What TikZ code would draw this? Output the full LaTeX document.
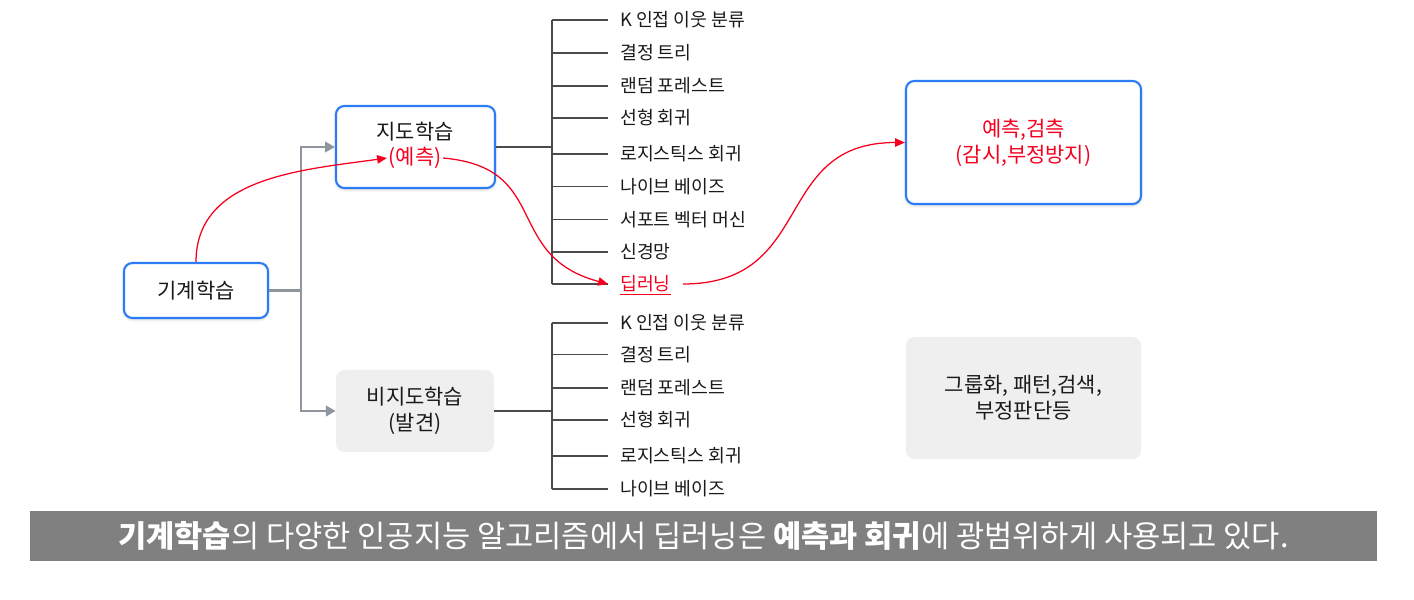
\documentclass[tikz,border=0pt]{standalone}
\usepackage{fontspec}
\setmainfont{Noto Sans CJK KR}
\usepackage{xcolor}
\usepackage{tikz}
\usetikzlibrary{arrows.meta,positioning,shadows.blur}
\definecolor{azure}{HTML}{2B7CF5}
\definecolor{scarlet}{HTML}{F5001F}
\definecolor{steel}{HTML}{8E959C}
\definecolor{ash}{HTML}{EFEFEF}
\definecolor{graphite}{HTML}{4A4A4A}
\definecolor{band}{HTML}{808080}
\definecolor{ink}{HTML}{1A1A1A}
\tikzset{
  box/.style={draw=azure,fill=white,rounded corners=6pt,line width=1.5pt,align=center,inner sep=0pt,blur shadow={shadow blur steps=6,shadow xshift=0pt,shadow yshift=-1pt,shadow opacity=18},font=\fontsize{14.9}{18.5}\selectfont\color{ink}},
  boxg/.style={fill=ash,rounded corners=6pt,align=center,inner sep=0pt,font=\fontsize{14.9}{18.5}\selectfont\color{ink}},
  ttl/.style={inner sep=1pt,font=\fontsize{14.9}{16}\selectfont\color{ink}},
  pred/.style={ttl,text=scarlet},
  algo/.style={anchor=west,inner ysep=0pt,inner xsep=8.5pt,text height=13pt,text depth=3.3pt,font=\fontsize{13}{15}\selectfont\color{ink}},
  twig/.style={line width=0.9pt,color=graphite},
  garr/.style={-{Triangle[length=7pt,width=7.5pt]},line width=1.5pt,color=steel},
  rarr/.style={-{Triangle[length=7pt,width=6pt]},line width=0.9pt,color=scarlet},
}
\begin{document}
\begin{tikzpicture}[x=0.025cm,y=0.025cm]
\useasboundingbox (0,0) rectangle (1414,-599);
% main boxes
\node[box,minimum width=3.6cm,minimum height=1.375cm] (ml) at (196,-290.5) {기계학습};
\node[box,minimum width=3.975cm,minimum height=2.05cm] (sup) at (415.5,-147) {};
\node[ttl] (supt) at (415,-132) {지도학습};
\node[pred] (supp) at (415,-158) {(예측)};
\node[boxg,minimum width=3.95cm,minimum height=2.05cm] (unsup) at (415,-411) {비지도학습\\(발견)};
\node[box,minimum width=5.875cm,minimum height=3.075cm,text=scarlet] (use) at (1023.5,-142.5) {예측,검측\\(감시,부정방지)};
\node[boxg,minimum width=5.875cm,minimum height=3.05cm] (task) at (1023.5,-398) {그룹화, 패턴,검색,\\부정판단등};
% fork
\coordinate (fork) at (301,-290.5);
\draw[garr] (ml.east) -- (fork) |- (sup.west);
\draw[garr] (fork) |- (unsup.west);
% supervised list
\coordinate (brka) at (552,-147);
\foreach \n/\y/\t in {1/20/K 인접 이웃 분류,2/53/결정 트리,3/86/랜덤 포레스트,4/118/선형 회귀,5/154/로지스틱스 회귀,6/186.5/나이브 베이즈,7/219.5/서포트 벡터 머신,8/252/신경망}{
  \node[algo] (a\n) at (608,-\y) {\t};
  \draw[twig] (a\n.west -| brka) -- (a\n.west);
}
\node[algo,text=scarlet] (dl) at (608,-284) {\underline{딥러닝}};
\draw[twig] (dl.west -| brka) -- (dl.west);
\draw[twig] (a1.west -| brka) -- (dl.west -| brka);
\draw[twig] (sup.east) -- (brka);
% unsupervised list
\coordinate (brkb) at (552,-411);
\foreach \n/\y/\t in {1/323/K 인접 이웃 분류,2/354.5/결정 트리,3/388/랜덤 포레스트,4/420/선형 회귀,5/456/로지스틱스 회귀,6/489/나이브 베이즈}{
  \node[algo] (b\n) at (608,-\y) {\t};
  \draw[twig] (b\n.west -| brkb) -- (b\n.west);
}
\draw[twig] (b1.west -| brkb) -- (b6.west -| brkb);
\draw[twig] (unsup.east) -- (brkb);
% red flow
\draw[rarr] (ml.north) to[out=90,in=188] (supp.west);
\draw[rarr] (supp.east) to[out=-5,in=165,looseness=1.35] (dl.west);
\draw[rarr] (dl.east) to[out=0,in=180,looseness=1.3] (use.west);
% caption band
\node[fill=band,minimum width=33.675cm,minimum height=1.25cm,inner sep=0pt,text=white,font=\fontsize{21.8}{24}\selectfont] (note) at (703.5,-536) {\textbf{기계학습}의 다양한 인공지능 알고리즘에서 딥러닝은 \textbf{예측과 회귀}에 광범위하게 사용되고 있다.};
\end{tikzpicture}
\end{document}
